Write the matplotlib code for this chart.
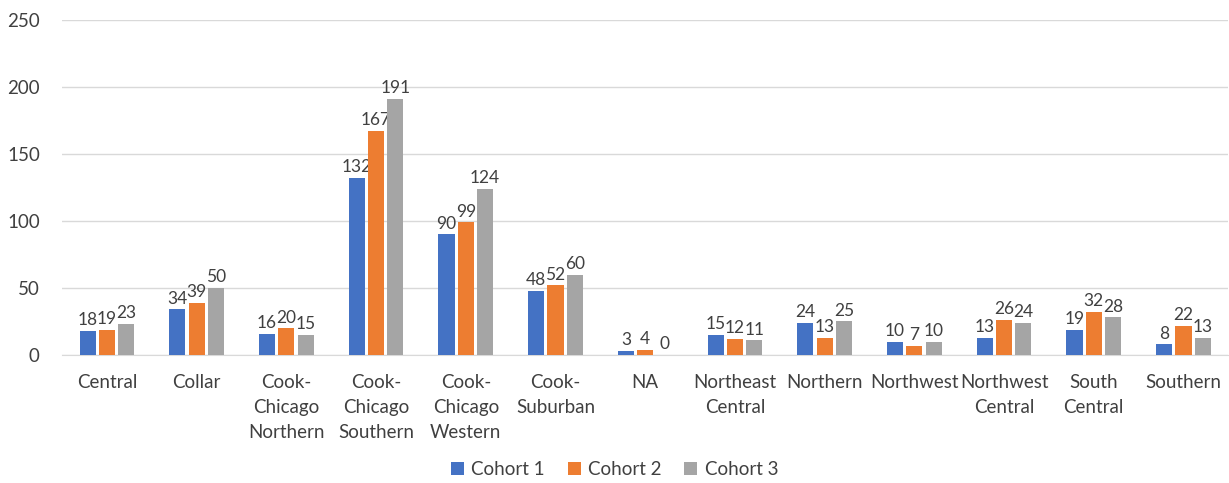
import matplotlib.pyplot as plt
import numpy as np

plt.rcParams['font.family'] = ['Lato', 'DejaVu Sans']

regions = ['Central', 'Collar', 'Cook-\nChicago\nNorthern', 'Cook-\nChicago\nSouthern',
           'Cook-\nChicago\nWestern', 'Cook-\nSuburban', 'NA', 'Northeast\nCentral',
           'Northern', 'Northwest', 'Northwest\nCentral', 'South\nCentral', 'Southern']
cohort1 = [18, 34, 16, 132, 90, 48, 3, 15, 24, 10, 13, 19, 8]
cohort2 = [19, 39, 20, 167, 99, 52, 4, 12, 13, 7, 26, 32, 22]
cohort3 = [23, 50, 15, 191, 124, 60, 0, 11, 25, 10, 24, 28, 13]
series_names = ['Cohort 1', 'Cohort 2', 'Cohort 3']
colors = ['#4472C4', '#ED7D31', '#A5A5A5']

fig = plt.figure(figsize=(12.29, 4.83), dpi=100)
ax = fig.add_axes([0.0505, 0.265, 0.949, 0.694])

x = np.arange(len(regions))
slot = 0.215
width = 0.18
fs = 13.5
for k, (vals, name, c) in enumerate(zip([cohort1, cohort2, cohort3], series_names, colors)):
    pos = x + (k - 1) * slot
    ax.bar(pos, vals, width, color=c, label=name, zorder=3)
    for p, v in zip(pos, vals):
        ax.text(p, v + 2, str(v), ha='center', va='bottom', fontsize=12.5, color='#404040')

ax.set_xlim(-0.5, len(regions) - 0.5)
ax.set_ylim(0, 250)
ax.set_yticks(range(0, 251, 50))
ax.yaxis.grid(True, color='#D9D9D9', linewidth=1, zorder=0)
for s in ['top', 'right', 'left']:
    ax.spines[s].set_visible(False)
ax.spines['bottom'].set_color('#D9D9D9')
ax.tick_params(axis='both', length=0, labelsize=fs, labelcolor='#404040')
ax.tick_params(axis='y', pad=16)
ax.tick_params(axis='x', pad=14)
ax.set_xticks(x)
ax.set_xticklabels(regions, linespacing=1.55)

fig.legend(loc='lower center', bbox_to_anchor=(0.5, -0.025), ncol=3, frameon=False,
           fontsize=fs, handlelength=0.7, handleheight=0.7, columnspacing=1.2,
           handletextpad=0.4, labelcolor='#404040')

fig.savefig('out.png', dpi=100)
